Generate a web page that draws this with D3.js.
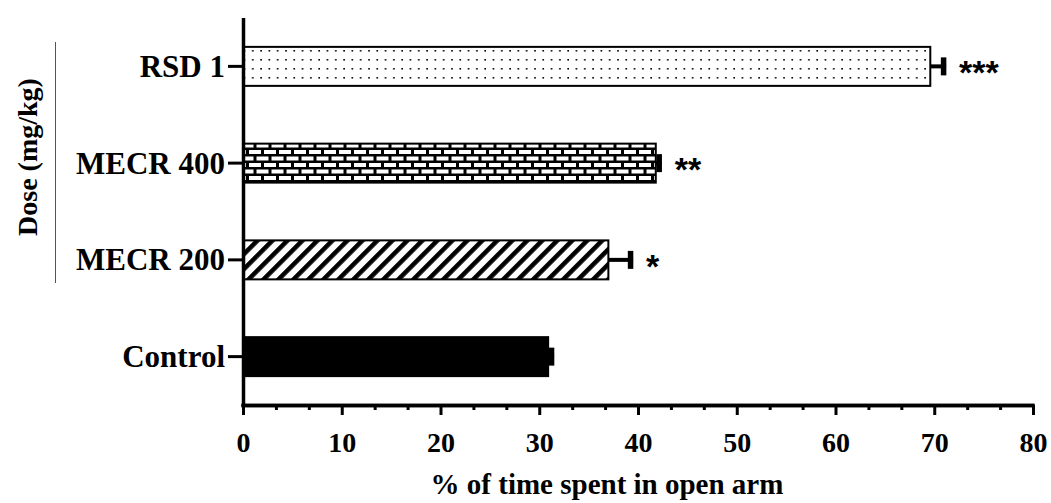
<!DOCTYPE html>
<html><head><meta charset="utf-8">
<script src="https://cdn.jsdelivr.net/npm/d3@7"></script>
<style>body{margin:0;background:#fff}svg{display:block}</style>
</head><body>
<svg id="c" width="1051" height="503"></svg>
<script>
const categories = ["Control", "MECR 200", "MECR 400", "RSD 1"];
const values = [30.9, 37.0, 41.8, 69.6];
const errors = [0.6, 2.5, 0.6, 1.6];
const stars = ["", "*", "**", "***"];
const fills = ["solid", "stripes", "bricks", "dots"];
const xTicks = [0, 10, 20, 30, 40, 50, 60, 70, 80];
const xTitle = "% of time spent in open arm";
const yTitle = "Dose (mg/kg)";

const svg = d3.select("#c");
const serif = "'Liberation Serif', 'Times New Roman', serif";

const defs = svg.append("defs");
// dots
const pd = defs.append("pattern").attr("id","dots").attr("patternUnits","userSpaceOnUse")
  .attr("width",8.3).attr("height",9).attr("x",0).attr("y",2);
pd.append("rect").attr("width",8.3).attr("height",9).attr("fill","#fff");
pd.append("rect").attr("x",3).attr("y",3).attr("width",1.6).attr("height",1.6).attr("fill","#000");
// bricks
const pb = defs.append("pattern").attr("id","bricks").attr("patternUnits","userSpaceOnUse")
  .attr("width",15).attr("height",13).attr("x",0).attr("y",-1);
pb.append("rect").attr("width",15).attr("height",13).attr("fill","#000");
pb.append("rect").attr("x",1.5).attr("y",1.5).attr("width",12).attr("height",4).attr("fill","#fff");
pb.append("rect").attr("x",-6).attr("y",8).attr("width",12).attr("height",4).attr("fill","#fff");
pb.append("rect").attr("x",9).attr("y",8).attr("width",12).attr("height",4).attr("fill","#fff");
// stripes
const ps = defs.append("pattern").attr("id","stripes").attr("patternUnits","userSpaceOnUse")
  .attr("width",10.6).attr("height",10.6).attr("patternTransform","rotate(45)");
ps.append("rect").attr("width",10.6).attr("height",10.6).attr("fill","#fff");
ps.append("rect").attr("x",0).attr("y",0).attr("width",4.6).attr("height",10.6).attr("fill","#000");

const x = d3.scaleLinear().domain([0, 80]).range([243, 1033]);
const y = d3.scaleBand().domain(categories.slice().reverse()).range([18, 405])
  .paddingInner(0.597).paddingOuter(0.2985);

const data = categories.map((c,i)=>({c, v:values[i], e:errors[i], s:stars[i], f:fills[i]}));

// bars
svg.append("g").selectAll("rect").data(data).join("rect")
  .attr("x", x(0)).attr("y", d=>y(d.c))
  .attr("width", d=>x(d.v)-x(0)).attr("height", y.bandwidth())
  .attr("fill", d=> d.f==="solid" ? "#000" : `url(#${d.f})`)
  .attr("stroke","#000").attr("stroke-width",2);

// error bars
const eg = svg.append("g");
eg.selectAll("line.err").data(data).join("line").attr("class","err")
  .attr("x1", d=>x(d.v)).attr("x2", d=>x(d.v+d.e))
  .attr("y1", d=>y(d.c)+y.bandwidth()/2).attr("y2", d=>y(d.c)+y.bandwidth()/2)
  .attr("stroke","#000").attr("stroke-width",4);
eg.selectAll("line.cap").data(data).join("line").attr("class","cap")
  .attr("x1", d=>x(d.v+d.e)-2.5).attr("x2", d=>x(d.v+d.e)-2.5)
  .attr("y1", d=>y(d.c)+y.bandwidth()/2-9).attr("y2", d=>y(d.c)+y.bandwidth()/2+9)
  .attr("stroke","#000").attr("stroke-width",5.5);

// stars
svg.append("g").selectAll("text").data(data).join("text")
  .attr("x", d=>x(d.v+d.e)+13).attr("y", d=>y(d.c)+y.bandwidth()/2+18)
  .attr("font-family","'Liberation Sans', Arial, sans-serif").attr("font-weight","bold")
  .attr("font-size",34).text(d=>d.s);

// x axis
const minor = d3.range(0, 80, 10/3).filter((v,i)=> i%3!==0);
const gxm = svg.append("g").attr("transform","translate(0,405)")
  .call(d3.axisBottom(x).tickValues(minor).tickSize(5).tickFormat("").tickSizeOuter(0));
const gx = svg.append("g").attr("transform","translate(0,405)")
  .call(d3.axisBottom(x).tickValues(xTicks).tickSize(10).tickSizeOuter(0));
[gx, gxm].forEach(g=>{
  g.select(".domain").attr("stroke","#000").attr("stroke-width",3.5).attr("d","M241.5,0.5H1034.5");
  g.selectAll(".tick line").attr("stroke","#000").attr("stroke-width",3);
});
gx.selectAll(".tick text").attr("y",47).attr("dy",0)
  .attr("font-family",serif).attr("font-weight","bold").attr("font-size",28).attr("fill","#000");

// y axis
const gy = svg.append("g").attr("transform","translate(243,0)")
  .call(d3.axisLeft(y).tickSize(15).tickSizeOuter(0));
gy.select(".domain").attr("stroke","#000").attr("stroke-width",3.5).attr("d","M0.5,18V406");
gy.selectAll(".tick line").attr("stroke","#000").attr("stroke-width",3);
gy.selectAll(".tick text").attr("x",-18).attr("dy","0.34em")
  .attr("font-family",serif).attr("font-weight","bold").attr("font-size",31).attr("fill","#000");

// titles
svg.append("text").attr("x",607).attr("y",494).attr("text-anchor","middle")
  .attr("font-family",serif).attr("font-weight","bold").attr("font-size",29).text(xTitle);
svg.append("text").attr("transform","translate(37,157) rotate(-90)").attr("text-anchor","middle")
  .attr("font-family",serif).attr("font-weight","bold").attr("font-size",28).text(yTitle);
svg.append("line").attr("x1",55.5).attr("x2",55.5).attr("y1",42).attr("y2",283)
  .attr("stroke","#555").attr("stroke-width",1);
</script>
</body></html>
